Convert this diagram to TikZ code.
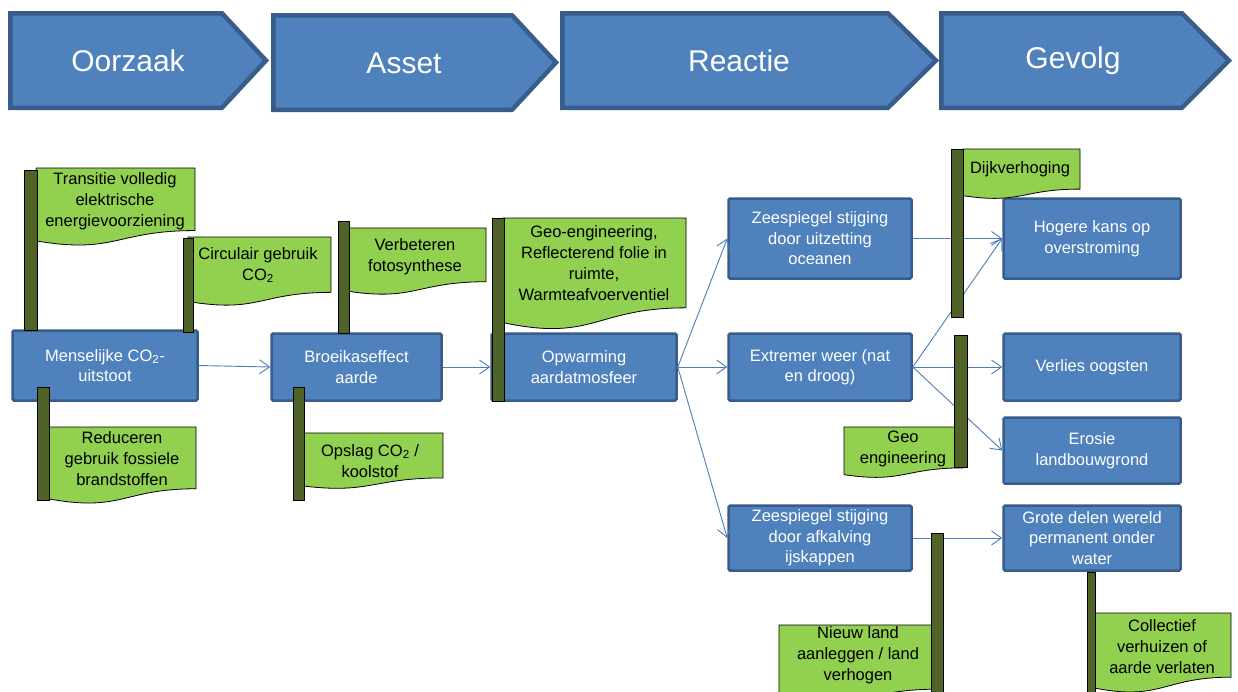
\documentclass[tikz,border=0pt]{standalone}
\usepackage{fontspec}
\setmainfont{Liberation Sans}
\usetikzlibrary{arrows.meta}
\definecolor{bfill}{HTML}{4F81BD}
\definecolor{bline}{HTML}{385D8A}
\definecolor{gfill}{HTML}{92D050}
\definecolor{polec}{HTML}{4F6228}
\definecolor{conc}{HTML}{4A7EBB}
\newcommand{\flagshape}[4]{%
  \filldraw[fill=gfill, draw=black, line width=0.8pt] (#1,#2) -- ({#1+#3},#2) -- ({#1+#3},{#2+0.802*#4}) .. controls ({#1+0.5*#3},{#2+0.802*#4}) and ({#1+0.5*#3},{#2+1.1075*#4}) .. (#1,{#2+0.934*#4}) -- cycle;}
\newcommand{\poleshape}[4]{%
  \filldraw[fill=polec, draw=black, line width=0.7pt] (#1,#2) rectangle (#3,#4);}
\newcommand{\chevshape}[5]{%
  \filldraw[fill=bfill, draw=bline, line width=4.5pt, miter limit=10] (#1,#4) -- (#2,#4) -- (#3,{(#4+#5)/2}) -- (#2,#5) -- (#1,#5) -- cycle;}
\tikzset{
  box/.style={draw=bline, fill=bfill, line width=2.5pt, rounded corners=1.5pt, text=white, align=center, font=\fontsize{16.5}{20.5}\selectfont, inner sep=0pt},
  ftxt/.style={align=center, font=\fontsize{16.5}{21}\selectfont, inner sep=0pt, text=black},
  chevtxt/.style={text=white, font=\fontsize{30}{36}\selectfont, inner sep=0pt},
  conn/.style={draw=conc, line width=0.9pt, -{Straight Barb[length=10pt,width=14pt,line width=0.9pt]}},
}
\begin{document}
\begin{tikzpicture}[x=1pt, y=-1pt]
\useasboundingbox (0,0) rectangle (1238,691);
\fill[white] (0,0) rectangle (1238,691);
% chevrons
\chevshape{10.25}{222}{266}{13.25}{107.75}
\chevshape{273.25}{512}{556}{15.25}{109.75}
\chevshape{562.25}{888}{936}{13.25}{107.75}
\chevshape{941.25}{1182}{1229}{13.25}{107.75}
\node[chevtxt] (c1) at (128,61) {Oorzaak};
\node[chevtxt] (c2) at (404,63) {Asset};
\node[chevtxt] (c3) at (739,61) {Reactie};
\node[chevtxt] (c4) at (1073,61) {Gevolg};
% boxes
\node[box, minimum width=185pt, minimum height=70pt] (mens) at (105,365.5) {Menselijke CO\textsubscript{2}-\\uitstoot};
\node[box, minimum width=170pt, minimum height=67pt] (broei) at (356.5,367) {Broeikaseffect\\aarde};
\node[box, minimum width=185pt, minimum height=67pt] (opw) at (584,367) {Opwarming\\aardatmosfeer};
\node[box, minimum width=183pt, minimum height=80pt] (zee1) at (820,238.5) {Zeespiegel stijging\\door uitzetting\\oceanen};
\node[box, minimum width=183pt, minimum height=67pt] (extr) at (820,367) {Extremer weer (nat\\en droog)};
\node[box, minimum width=183pt, minimum height=65pt] (zee2) at (820,538) {Zeespiegel stijging\\door afkalving\\ijskappen};
\node[box, minimum width=177pt, minimum height=80pt] (hog) at (1092,238.5) {Hogere kans op\\overstroming};
\node[box, minimum width=177pt, minimum height=67pt] (verl) at (1092,367) {Verlies oogsten};
\node[box, minimum width=177pt, minimum height=66pt] (eros) at (1092,450.5) {Erosie\\landbouwgrond};
\node[box, minimum width=177pt, minimum height=65pt] (grot) at (1092,538) {Grote delen wereld\\permanent onder\\water};
% connectors
\draw[conn] (mens.east) -- (broei.west);
\draw[conn] (broei.east) -- (opw.west);
\draw[conn] (opw.east) -- (zee1.west);
\draw[conn] (opw.east) -- (extr.west);
\draw[conn] (opw.east) -- (zee2.west);
\draw[conn] (zee1.east) -- (hog.west);
\draw[conn] (extr.east) -- (hog.west);
\draw[conn] (extr.east) -- (verl.west);
\draw[conn] (extr.east) -- (eros.west);
\draw[conn] (zee2.east) -- (grot.west);
% flags
\flagshape{36}{168}{159}{78}\poleshape{24}{170}{37}{330}
\node[ftxt] (f1) at (115,201) {Transitie volledig\\elektrische\\energievoorziening};
\flagshape{188}{237}{143}{69}\poleshape{183}{238}{193}{332}
\node[ftxt] (f2) at (258,265) {Circulair gebruik\\CO\textsubscript{2}};
\flagshape{344}{228}{142}{67}\poleshape{338}{221}{349}{333}
\node[ftxt] (f3) at (415,256.5) {Verbeteren\\fotosynthese};
\flagshape{503}{218}{183}{112}\poleshape{492}{218}{504}{401}
\node[ftxt] (f4) at (594,263.5) {Geo-engineering,\\Reflecterend folie in\\ruimte,\\Warmteafvoerventiel};
\flagshape{49}{427}{147}{77}\poleshape{37}{387}{49}{500}
\node[ftxt] (f5) at (122,459) {Reduceren\\gebruik fossiele\\brandstoffen};
\flagshape{298}{433}{145}{56}\poleshape{293}{387}{304}{500}
\node[ftxt] (f6) at (370,461) {Opslag CO\textsubscript{2} /\\koolstof};
\flagshape{963}{149}{117}{50}\poleshape{951}{149}{963}{317}
\node[ftxt] (f7) at (1020,169) {Dijkverhoging};
\flagshape{844}{427}{119}{51}\poleshape{954}{335}{967}{467}
\node[ftxt] (f8) at (903,448.5) {Geo\\engineering};
\flagshape{779}{625}{159}{80}\poleshape{931}{533}{943}{695}
\node[ftxt] (f9) at (858,655) {Nieuw land\\aanleggen / land\\verhogen};
\flagshape{1093}{613}{138}{80}\poleshape{1087}{572}{1095}{695}
\node[ftxt] (f10) at (1162,647) {Collectief\\verhuizen of\\aarde verlaten};
\end{tikzpicture}
\end{document}
